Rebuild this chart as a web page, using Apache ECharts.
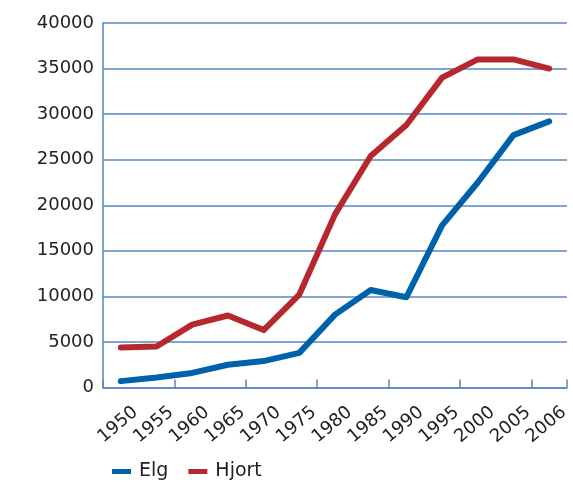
<!DOCTYPE html>
<html>
<head>
<meta charset="utf-8">
<script src="https://cdn.jsdelivr.net/npm/echarts@6/dist/echarts.min.js"></script>
<style>
  html, body { margin: 0; padding: 0; background: #fff; }
  #chart { width: 573px; height: 485px; }
</style>
</head>
<body>
<div id="chart"></div>
<script>
// Periods shown on the x axis
var years = ['1950', '1955', '1960', '1965', '1970', '1975', '1980', '1985', '1990', '1995', '2000', '2005', '2006'];
// Animals shot per period
var elg   = [700, 1100, 1600, 2500, 2900, 3800, 8000, 10700, 9900, 17800, 22500, 27700, 29200];
var hjort = [4400, 4500, 6900, 7900, 6300, 10200, 19000, 25400, 28800, 34000, 36000, 36000, 35000];
// Tick labels on the value axis
var yTicks = [0, 5000, 10000, 15000, 20000, 25000, 30000, 35000, 40000];

var gridBlue = '#5686c6';
var font = 'DejaVu Sans';

var chart = echarts.init(document.getElementById('chart'), null, { renderer: 'canvas' });
chart.setOption({
  animation: false,
  backgroundColor: '#ffffff',
  textStyle: { fontFamily: font },
  grid: { left: 103, right: 6, top: 23, bottom: 97.5, containLabel: false },
  legend: {
    left: 112, top: 462, padding: 0,
    icon: 'rect', itemWidth: 19, itemHeight: 5, itemGap: 20,
    textStyle: { fontFamily: font, fontSize: 19, color: '#222', padding: [0, 0, 0, 3] },
    data: ['Elg', 'Hjort']
  },
  xAxis: [
    {
      type: 'category',
      data: years,
      boundaryGap: true,
      axisLine: { lineStyle: { color: gridBlue, width: 1.5 } },
      axisTick: { show: true, inside: true, length: 8, lineStyle: { color: gridBlue, width: 1.5 } },
      axisLabel: { show: false },
      splitLine: { show: false }
    },
    {
      // label axis: one label per tick mark, rotated
      type: 'category',
      position: 'bottom',
      data: [''].concat(years),
      boundaryGap: false,
      axisLine: { show: false },
      axisTick: { show: false },
      axisLabel: {
        interval: 0, rotate: 40, margin: 20,
        padding: [0, 4, 0, 0],
        fontFamily: font, fontSize: 18, color: '#222'
      },
      splitLine: { show: false }
    }
  ],
  yAxis: {
    type: 'value',
    min: yTicks[0], max: yTicks[yTicks.length - 1], interval: yTicks[1] - yTicks[0],
    axisLine: { show: true, lineStyle: { color: gridBlue, width: 1.5 } },
    axisTick: { show: false },
    axisLabel: {
      margin: 9, fontFamily: font, fontSize: 18, color: '#222',
      padding: [6, 0, 0, 0],
      formatter: function (v) { return String(v); }
    },
    splitLine: { show: true, lineStyle: { color: gridBlue, width: 1.5 } }
  },
  series: [
    {
      name: 'Elg', type: 'line', data: elg, xAxisIndex: 0,
      symbol: 'none', color: '#0061ab',
      lineStyle: { width: 6, color: '#0061ab', cap: 'round', join: 'round' }
    },
    {
      name: 'Hjort', type: 'line', data: hjort, xAxisIndex: 0,
      symbol: 'none', color: '#b7282e',
      lineStyle: { width: 6, color: '#b7282e', cap: 'round', join: 'round' }
    }
  ]
});
</script>
</body>
</html>
